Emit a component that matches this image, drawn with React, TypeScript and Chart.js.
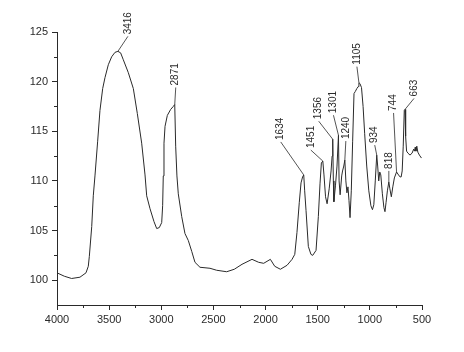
import React, { useEffect, useRef } from 'react';
import { Chart, registerables } from 'chart.js';

Chart.register(...registerables);

const wavenumbers = [
  4000, 3930, 3860, 3780, 3722, 3700, 3690, 3667, 3652, 3636, 3610, 3588, 3562, 3540, 3508, 3476,
  3444, 3416, 3390, 3364, 3316, 3268, 3230, 3188, 3156, 3140, 3108, 3070, 3044, 3019, 2996, 2987,
  2981, 2974, 2964, 2942, 2910, 2885, 2871, 2862, 2850, 2837, 2804, 2773, 2741, 2708, 2677, 2629,
  2533, 2469, 2373, 2300, 2226, 2130, 2066, 2018, 1954, 1912, 1858, 1794, 1746, 1720, 1699, 1677,
  1660, 1645, 1634, 1625, 1612, 1590, 1565, 1548, 1516, 1494, 1478, 1465, 1451, 1440, 1425, 1410,
  1390, 1372, 1362, 1356, 1350, 1345, 1330, 1315, 1301, 1295, 1285, 1270, 1262, 1250, 1240, 1230,
  1220, 1210, 1200, 1190, 1178, 1165, 1152, 1140, 1125, 1112, 1105, 1095, 1080, 1065, 1050, 1030,
  1010, 990, 975, 962, 948, 934, 925, 915, 905, 895, 880, 865, 855, 845, 832, 818,
  808, 794, 780, 765, 744, 725, 710, 700, 690, 680, 670, 663, 657, 648, 635, 615,
  595, 580, 572, 565, 558, 550, 540, 525, 505,
];

const transmittance = [
  100.74, 100.4, 100.17, 100.3, 100.74, 101.4, 102.4, 105.4, 108.5, 110.5, 114.0, 117.1, 119.3, 120.4, 121.7, 122.5,
  122.95, 123.05, 122.9, 122.2, 120.9, 119.3, 116.8, 113.8, 110.6, 108.5, 107.2, 105.9, 105.2, 105.3, 105.8, 107.5,
  110.5, 113.8, 115.5, 116.6, 117.2, 117.5, 117.7, 113.5, 110.5, 108.7, 106.4, 104.7, 104.0, 102.9, 101.8, 101.3,
  101.2, 101.0, 100.85, 101.1, 101.6, 102.1, 101.8, 101.7, 102.1, 101.4, 101.1, 101.5, 102.1, 102.6, 104.8, 107.8,
  109.8, 110.4, 110.6, 109.0, 107.0, 103.4, 102.6, 102.5, 103.0, 106.4, 109.7, 111.8, 112.0, 110.6, 108.4, 107.7,
  109.2, 111.0, 112.5, 114.2, 110.0, 107.9, 109.5, 111.5, 114.6, 110.0, 108.6, 110.5, 111.0, 111.5, 112.1, 110.0,
  108.8, 109.4, 108.0, 106.3, 109.0, 114.0, 118.8, 119.0, 119.3, 119.5, 119.9, 119.8, 119.4, 117.5, 114.8, 111.5,
  109.0, 107.5, 107.1, 107.6, 110.0, 112.6, 111.5, 110.0, 110.9, 110.6, 108.7, 107.3, 106.9, 107.8, 109.0, 109.9,
  109.2, 108.4, 109.4, 110.3, 110.9, 110.6, 110.4, 110.4, 111.0, 113.5, 117.1, 117.2, 114.5, 113.0, 112.8, 112.6,
  112.8, 113.2, 113.0, 113.4, 113.0, 113.5, 112.9, 112.6, 112.3,
];

const peakLabels = ['3416', '2871', '1634', '1451', '1356', '1301', '1240', '1105', '934', '818', '744', '663'];

const xTicks = [4000, 3500, 3000, 2500, 2000, 1500, 1000, 500];
const xMinorTicks = [3750, 3250, 2750, 2250, 1750, 1250, 750];
const yTicks = [100, 105, 110, 115, 120, 125];
const yMinorTicks = [102.5, 107.5, 112.5, 117.5, 122.5];

// layout only: pixel offset of each leader line's far end from its peak
const labelOffsets: [number, number][] = [
  [10, -15], [1, -17], [-23, -33], [-12, -11], [-14, -18], [-5, -20],
  [1, -19], [-2, -16], [-2, -10], [0, -11], [-3, -59], [9, -11],
];

const FONT = '"Liberation Sans", Arial, sans-serif';
const INK = '#2a2a2a';

function valueAt(wn: number): number {
  for (let i = 0; i < wavenumbers.length - 1; i++) {
    const a = wavenumbers[i], b = wavenumbers[i + 1];
    if ((wn <= a && wn >= b) || (wn >= a && wn <= b)) {
      const t = a === b ? 0 : (wn - a) / (b - a);
      return transmittance[i] + t * (transmittance[i + 1] - transmittance[i]);
    }
  }
  return transmittance[transmittance.length - 1];
}

const minorTickPlugin = {
  id: 'minorTicks',
  afterDraw(chart: any) {
    const { ctx, chartArea, scales } = chart;
    const x = scales.x, y = scales.y;
    ctx.save();
    ctx.strokeStyle = INK;
    ctx.lineWidth = 1;
    ctx.beginPath();
    xMinorTicks.forEach((v) => {
      const px = Math.round(x.getPixelForValue(v)) + 0.5;
      ctx.moveTo(px, chartArea.bottom);
      ctx.lineTo(px, chartArea.bottom + 3);
    });
    yMinorTicks.forEach((v) => {
      const py = Math.round(y.getPixelForValue(v)) + 0.5;
      ctx.moveTo(chartArea.left, py);
      ctx.lineTo(chartArea.left - 3, py);
    });
    ctx.stroke();
    ctx.restore();
  },
};

const peakPlugin = {
  id: 'peakLabels',
  afterDatasetsDraw(chart: any) {
    const { ctx, scales } = chart;
    const x = scales.x, y = scales.y;
    ctx.save();
    ctx.strokeStyle = INK;
    ctx.fillStyle = INK;
    ctx.lineWidth = 0.8;
    ctx.font = `10px ${FONT}`;
    peakLabels.forEach((lab, i) => {
      const wn = Number(lab);
      const px = x.getPixelForValue(wn);
      const py = y.getPixelForValue(valueAt(wn));
      const [dx, dy] = labelOffsets[i];
      const ex = px + dx, ey = py + dy;
      ctx.beginPath();
      ctx.moveTo(px, py);
      ctx.lineTo(ex, ey);
      ctx.stroke();
      ctx.save();
      ctx.translate(ex, ey - 2);
      ctx.rotate(-Math.PI / 2);
      ctx.textAlign = 'left';
      ctx.textBaseline = 'middle';
      ctx.fillText(lab, 0, 0);
      ctx.restore();
    });
    ctx.restore();
  },
};

export default function App() {
  const ref = useRef<HTMLCanvasElement | null>(null);

  useEffect(() => {
    if (!ref.current) return;
    const chart = new Chart(ref.current, {
      type: 'line',
      data: {
        datasets: [
          {
            data: wavenumbers.map((w, i) => ({ x: w, y: transmittance[i] })),
            borderColor: INK,
            borderWidth: 1,
            pointRadius: 0,
            tension: 0,
            fill: false,
          },
        ],
      },
      options: {
        animation: false,
        responsive: false,
        devicePixelRatio: 1,
        layout: { padding: { left: 0, right: 42, top: 32, bottom: 0 } },
        plugins: { legend: { display: false }, tooltip: { enabled: false } },
        scales: {
          x: {
            type: 'linear',
            reverse: true,
            min: 500,
            max: 4000,
            afterBuildTicks: (s: any) => {
              s.ticks = xTicks.map((v) => ({ value: v }));
            },
            afterFit: (s: any) => {
              s.height = 47;
            },
            grid: { display: true, drawOnChartArea: false, drawTicks: true, tickLength: 5, color: INK },
            border: { display: true, color: INK, width: 1 },
            ticks: {
              color: INK,
              font: { size: 11, family: FONT },
              padding: 3,
              maxRotation: 0,
              autoSkip: false,
              callback: (v: any) => String(v),
            },
          },
          y: {
            type: 'linear',
            min: 97.5,
            max: 125,
            afterBuildTicks: (s: any) => {
              s.ticks = yTicks.map((v) => ({ value: v }));
            },
            afterFit: (s: any) => {
              s.width = 57;
            },
            grid: { display: true, drawOnChartArea: false, drawTicks: true, tickLength: 5, color: INK },
            border: { display: true, color: INK, width: 1 },
            ticks: {
              color: INK,
              font: { size: 11, family: FONT },
              padding: 4,
              autoSkip: false,
              callback: (v: any) => String(v),
            },
          },
        },
      },
      plugins: [minorTickPlugin, peakPlugin],
    });
    return () => chart.destroy();
  }, []);

  return (
    <div style={{ position: 'fixed', left: 0, top: 0, width: 464, height: 352, background: '#fff' }}>
      <canvas ref={ref} width={464} height={352} style={{ display: 'block', width: 464, height: 352 }} />
    </div>
  );
}
